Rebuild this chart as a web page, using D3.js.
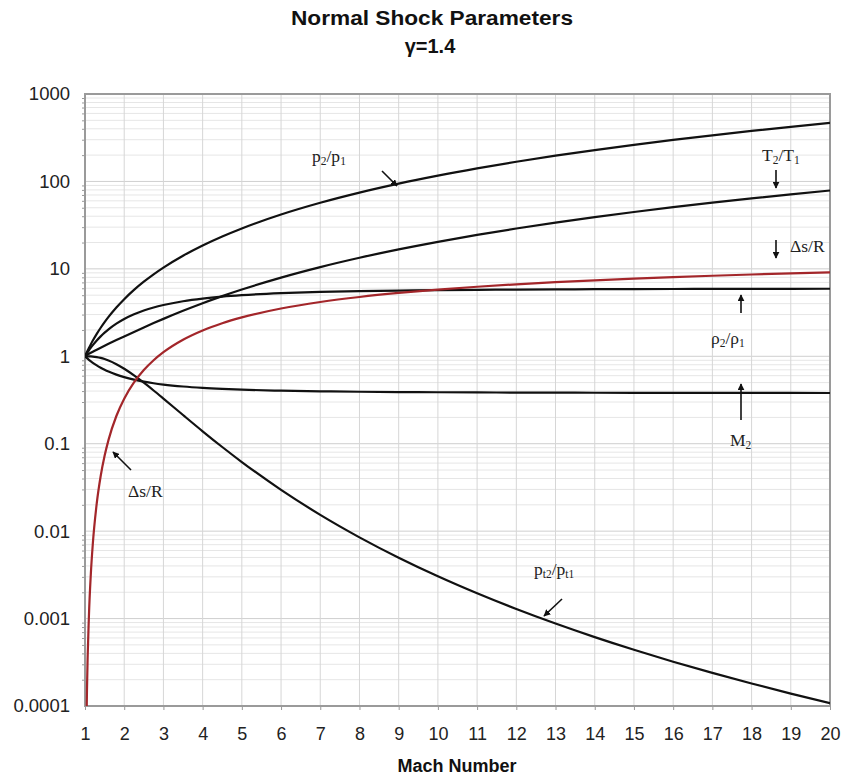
<!DOCTYPE html>
<html>
<head>
<meta charset="utf-8">
<script src="https://cdn.jsdelivr.net/npm/d3@7"></script>
<style>
  html, body { margin: 0; padding: 0; background: #fff; }
  svg { display: block; }
</style>
</head>
<body>
<svg id="chart" width="844" height="779"></svg>
<script>
// ---- Data (gamma = 1.4) ----
const mach   = [1, 1.03, 1.05, 1.1, 1.15, 1.2, 1.3, 1.4, 1.5, 1.6, 1.8, 2, 2.25, 2.5, 2.75, 3, 3.5, 4, 4.5, 5, 6, 7, 8, 9, 10, 11, 12, 13, 14, 15, 16, 17, 18, 19, 20];
const p2p1   = [1, 1.0711, 1.1196, 1.245, 1.3763, 1.5133, 1.805, 2.12, 2.4583, 2.82, 3.6133, 4.5, 5.7396, 7.125, 8.6563, 10.333, 14.125, 18.5, 23.458, 29.0, 41.833, 57.0, 74.5, 94.333, 116.5, 141.0, 167.83, 197.0, 228.5, 262.33, 298.5, 337.0, 377.83, 421.0, 466.5];
const T2T1   = [1, 1.0198, 1.0328, 1.0649, 1.0966, 1.128, 1.1909, 1.2547, 1.3202, 1.388, 1.5316, 1.6875, 1.9014, 2.1375, 2.3966, 2.679, 3.3151, 4.0469, 4.8751, 5.8, 7.9405, 10.469, 13.387, 16.693, 20.388, 24.471, 28.944, 33.805, 39.055, 44.694, 50.722, 57.138, 63.944, 71.139, 78.722];
const rho2rho1 = [1, 1.0502, 1.084, 1.1691, 1.255, 1.3416, 1.5157, 1.6897, 1.8621, 2.0318, 2.3592, 2.6667, 3.0186, 3.3333, 3.6119, 3.8571, 4.2609, 4.5714, 4.8119, 5.0, 5.2683, 5.4444, 5.5652, 5.6512, 5.7143, 5.7619, 5.7987, 5.8276, 5.8507, 5.8696, 5.8851, 5.898, 5.9088, 5.918, 5.9259];
const M2     = [1, 0.9712, 0.9531, 0.9118, 0.875, 0.8422, 0.786, 0.7397, 0.7011, 0.6684, 0.6165, 0.5774, 0.5406, 0.513, 0.4918, 0.4752, 0.4512, 0.435, 0.4236, 0.4152, 0.4042, 0.3974, 0.3929, 0.3898, 0.3876, 0.3859, 0.3847, 0.3837, 0.3829, 0.3823, 0.3818, 0.3813, 0.381, 0.3807, 0.3804];
const pt2pt1 = [1, 0.99997, 0.99985, 0.99893, 0.99669, 0.9928, 0.97935, 0.95819, 0.92979, 0.8952, 0.81268, 0.72087, 0.6055, 0.49902, 0.4062, 0.32834, 0.21295, 0.13876, 0.0917, 0.06172, 0.02965, 0.01535, 0.008491, 0.004966, 0.003045, 0.001946, 0.001287, 0.000877, 0.0006137, 0.0004395, 0.0003212, 0.000239, 0.0001807, 0.0001387, 0.0001078];
const dsR    = [null, 0.000033, 0.000149, 0.00107, 0.003315, 0.007226, 0.020866, 0.04271, 0.0728, 0.11071, 0.20741, 0.32729, 0.5017, 0.6951, 0.9008, 1.1137, 1.5466, 1.975, 2.3892, 2.7852, 3.5183, 4.1765, 4.7691, 5.3056, 5.7943, 6.2425, 6.6557, 7.0389, 7.3959, 7.7298, 8.0435, 8.3391, 8.6186, 8.8836, 9.1355];

const xTickValues = [1, 2, 3, 4, 5, 6, 7, 8, 9, 10, 11, 12, 13, 14, 15, 16, 17, 18, 19, 20];
const yTickValues = [0.0001, 0.001, 0.01, 0.1, 1, 10, 100, 1000];
const yTickLabels = ["0.0001", "0.001", "0.01", "0.1", "1", "10", "100", "1000"];

const titleText = "Normal Shock Parameters";
const subtitleText = "\u03B3=1.4";
const xAxisTitle = "Mach Number";

// ---- Layout ----
const svg = d3.select("#chart");
const L = 85, R = 830, T = 94, B = 706;
const x = d3.scaleLinear().domain([1, 20]).range([L, R]);
const y = d3.scaleLog().domain([1e-4, 1e3]).range([B, T]);

// minor log values
const minorVals = [];
for (let e = -4; e < 3; e++) for (let k = 2; k <= 9; k++) minorVals.push(k * Math.pow(10, e));

// grid
const grid = svg.append("g");
grid.selectAll("line.hmin").data(minorVals).join("line")
  .attr("x1", L).attr("x2", R).attr("y1", d => y(d)).attr("y2", d => y(d))
  .attr("stroke", "#e6e6e6").attr("stroke-width", 1);
grid.selectAll("line.hmaj").data(yTickValues).join("line")
  .attr("x1", L).attr("x2", R).attr("y1", d => y(d)).attr("y2", d => y(d))
  .attr("stroke", "#cfcfcf").attr("stroke-width", 1);
grid.selectAll("line.v").data(xTickValues).join("line")
  .attr("x1", d => x(d)).attr("x2", d => x(d)).attr("y1", T).attr("y2", B)
  .attr("stroke", "#d6d6d6").attr("stroke-width", 1);

// axes
const yAxis = d3.axisLeft(y).tickValues(yTickValues)
  .tickFormat((d, i) => yTickLabels[i]).tickSize(0).tickPadding(15);
const gy = svg.append("g").attr("transform", `translate(${L},0)`).call(yAxis);
gy.select(".domain").remove();
gy.selectAll("text").attr("font-family", "Liberation Sans, Arial, sans-serif")
  .attr("font-size", 18.5).attr("fill", "#222");

const yMinor = d3.axisLeft(y).tickValues(minorVals).tickFormat("").tickSize(3);
const gym = svg.append("g").attr("transform", `translate(${L},0)`).call(yMinor);
gym.select(".domain").remove();
gym.selectAll("line").attr("stroke", "#999");

const xAxis = d3.axisBottom(x).tickValues(xTickValues).tickFormat(d3.format("d"))
  .tickSize(4).tickPadding(17);
const gx = svg.append("g").attr("transform", `translate(0,${B})`).call(xAxis);
gx.select(".domain").remove();
gx.selectAll("line").attr("stroke", "#999");
gx.selectAll("text").attr("font-family", "Liberation Sans, Arial, sans-serif")
  .attr("font-size", 18).attr("fill", "#222");

// frame
svg.append("rect").attr("x", L).attr("y", T).attr("width", R - L).attr("height", B - T)
  .attr("fill", "none").attr("stroke", "#9a9a9a").attr("stroke-width", 2);

// clip
svg.append("clipPath").attr("id", "clip").append("rect")
  .attr("x", L).attr("y", T).attr("width", R - L).attr("height", B - T);

const line = d3.line()
  .defined(d => d[1] != null)
  .x(d => x(d[0])).y(d => y(d[1]))
  .curve(d3.curveMonotoneX);

const series = [
  { vals: p2p1, color: "#111" },
  { vals: T2T1, color: "#111" },
  { vals: rho2rho1, color: "#111" },
  { vals: M2, color: "#111" },
  { vals: pt2pt1, color: "#111" },
  { vals: dsR, color: "#a3262a" }
];
const gl = svg.append("g").attr("clip-path", "url(#clip)");
series.forEach(s => {
  gl.append("path")
    .datum(mach.map((m, i) => [m, s.vals[i]]))
    .attr("d", line)
    .attr("fill", "none")
    .attr("stroke", s.color)
    .attr("stroke-width", 2.2)
    .attr("stroke-linejoin", "round");
});

// titles
svg.append("text").attr("x", 432).attr("y", 25).attr("text-anchor", "middle")
  .attr("font-family", "Liberation Sans, Arial, sans-serif").attr("font-weight", "bold")
  .attr("font-size", 20).attr("fill", "#111")
  .attr("textLength", 282).attr("lengthAdjust", "spacingAndGlyphs")
  .text(titleText);
svg.append("text").attr("x", 430).attr("y", 53).attr("text-anchor", "middle")
  .attr("font-family", "Liberation Sans, Arial, sans-serif").attr("font-weight", "bold")
  .attr("font-size", 20).attr("fill", "#111")
  .text(subtitleText);
svg.append("text").attr("x", 457).attr("y", 772).attr("text-anchor", "middle")
  .attr("font-family", "Liberation Sans, Arial, sans-serif").attr("font-weight", "bold")
  .attr("font-size", 18).attr("fill", "#111")
  .text(xAxisTitle);

// annotations
const defs = svg.append("defs");
defs.append("marker").attr("id", "ah").attr("viewBox", "0 0 10 10")
  .attr("refX", 9).attr("refY", 5).attr("markerWidth", 7).attr("markerHeight", 7)
  .attr("markerUnits", "userSpaceOnUse").attr("orient", "auto")
  .append("path").attr("d", "M0,0 L10,5 L0,10 z").attr("fill", "#111");

function arrow(x1, y1, x2, y2) {
  svg.append("line").attr("x1", x1).attr("y1", y1).attr("x2", x2).attr("y2", y2)
    .attr("stroke", "#111").attr("stroke-width", 1.6).attr("marker-end", "url(#ah)");
}
function label(xp, yp, parts) {
  const t = svg.append("text").attr("x", xp).attr("y", yp)
    .attr("font-family", "Liberation Serif, Times New Roman, serif")
    .attr("font-size", 17.5).attr("fill", "#222");
  parts.forEach(p => {
    const ts = t.append("tspan").text(p.t);
    if (p.sub) ts.attr("font-size", 11.5).attr("dy", 3);
    else if (p.after) ts.attr("dy", -3);
  });
}

label(312, 162, [{t:"p"},{t:"2",sub:true},{t:"/p",after:true},{t:"1",sub:true}]);
arrow(382, 171, 397, 186);

label(762, 161, [{t:"T"},{t:"2",sub:true},{t:"/T",after:true},{t:"1",sub:true}]);
arrow(776, 170, 776, 188);

label(790, 252, [{t:"\u0394s/R"}]);
arrow(776, 240, 776, 258);

arrow(741, 313, 741, 295);
label(711, 344, [{t:"\u03C1"},{t:"2",sub:true},{t:"/\u03C1",after:true},{t:"1",sub:true}]);

arrow(741, 420, 741, 384);
label(730, 446, [{t:"M"},{t:"2",sub:true}]);

label(128, 497, [{t:"\u0394s/R"}]);
arrow(131, 470, 113, 452);

label(534, 575, [{t:"p"},{t:"t2",sub:true},{t:"/p",after:true},{t:"t1",sub:true}]);
arrow(562, 599, 544, 616);
</script>
</body>
</html>
